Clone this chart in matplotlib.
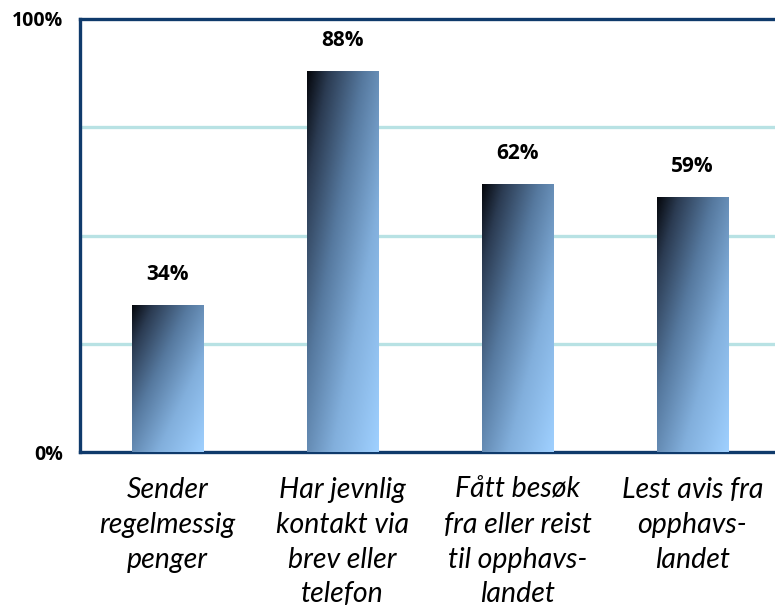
import numpy as np
import matplotlib.pyplot as plt
from matplotlib.colors import LinearSegmentedColormap

categories = [
    "Sender\nregelmessig\npenger",
    "Har jevnlig\nkontakt via\nbrev eller\ntelefon",
    "Fått besøk\nfra eller reist\ntil opphavs-\nlandet",
    "Lest avis fra\nopphavs-\nlandet",
]
values = [34, 88, 62, 59]
value_labels = ["34%", "88%", "62%", "59%"]
grid_levels = [25, 50, 75]

navy = "#0f3a6b"
grid_col = "#b8e2e4"
cmap = LinearSegmentedColormap.from_list(
    "bar", [(0.0, "#05070c"), (0.15, "#2b3b52"), (0.4, "#56799f"),
            (0.68, "#82afdc"), (1.0, "#9fd0ff")])


def main():
    fig = plt.figure(figsize=(7.75, 6.14), dpi=100)
    ax = fig.add_axes([80 / 775, 162 / 614, 700 / 775, 433 / 614])

    x = np.arange(len(categories))
    bars = ax.bar(x, values, width=0.406, color="none", edgecolor="none", zorder=3)

    # diagonal gradient: dark top-left -> light bottom-right
    u = np.linspace(0, 1, 60)
    v = np.linspace(0, 1, 200)
    grad = (u[None, :] + v[:, None]) / 2.0
    for rect in bars:
        x0 = rect.get_x()
        x1 = x0 + rect.get_width()
        h = rect.get_height()
        im = ax.imshow(grad, cmap=cmap, extent=(x0, x1, 0, h), origin="upper",
                       aspect="auto", zorder=3, interpolation="bilinear")
        im.set_clip_path(rect)

    for xi, val, lab in zip(x, values, value_labels):
        ax.text(xi, val + 7, lab, ha="center", va="center", fontsize=15,
                fontweight="bold", family="Open Sans", color="black")

    for g in grid_levels:
        ax.axhline(g, color=grid_col, lw=2.4, zorder=1)

    ax.set_xlim(-0.5, 3.5)
    ax.set_ylim(0, 100)
    ax.set_yticks([0, 100])
    ax.set_yticklabels(["0%", "100%"], fontsize=14, fontweight="bold", family="Open Sans")
    ax.set_xticks(x)
    ax.set_xticklabels(categories, fontsize=20.5, style="italic", family="Lato",
                       linespacing=1.42, va="top")
    ax.tick_params(axis="both", length=0)
    ax.tick_params(axis="y", pad=12)
    ax.tick_params(axis="x", pad=18)

    for side in ["left", "top", "bottom"]:
        ax.spines[side].set_color(navy)
        ax.spines[side].set_linewidth(2.4)
    ax.spines["right"].set_visible(False)

    fig.savefig("out.png", dpi=100)


if __name__ == "__main__":
    main()
